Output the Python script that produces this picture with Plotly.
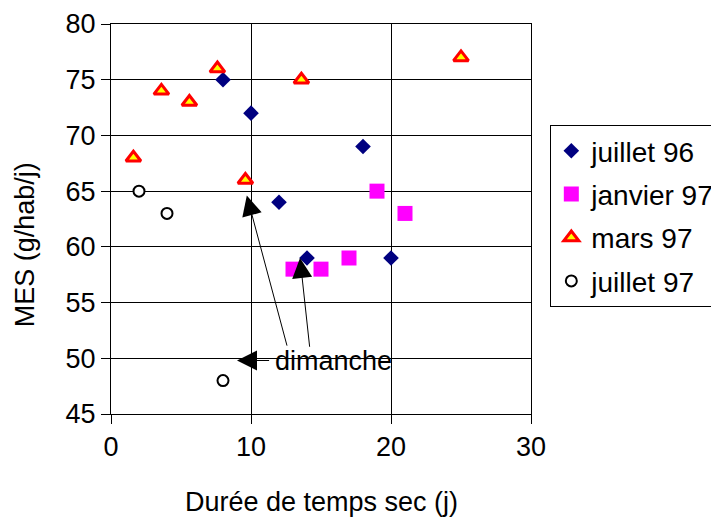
import plotly.graph_objects as go

# 数据：各时段的干旱天数 vs MES
juil96_x = [8, 10, 12, 14, 18, 20]
juil96_y = [75, 72, 64, 59, 69, 59]

janv97_x = [13, 15, 17, 19, 21]
janv97_y = [58, 58, 59, 65, 63]

mars97_x = [1.6, 3.6, 5.6, 7.6, 9.6, 13.6, 25]
mars97_y = [68, 74, 73, 76, 66, 75, 77]

juil97_x = [2, 4, 8]
juil97_y = [65, 63, 48]

# "dimanche" 箭头：(尖端 x, 尖端 y, 尾部 x, 尾部 y)
ARROWS = [
    (9.0, 49.8, 11.4, 49.8),
    (9.7, 64.6, 12.6, 51.0),
    (13.5, 59.0, 14.2, 50.9),
]

FONT = "Liberation Sans, Arial, sans-serif"
FS = 27

fig = go.Figure()
fig.add_trace(go.Scatter(x=juil96_x, y=juil96_y, mode="markers", name="juillet 96",
                         legendgroup="a",
                         marker=dict(symbol="diamond", size=12, color="#000080")))
fig.add_trace(go.Scatter(x=janv97_x, y=janv97_y, mode="markers", name="janvier 97",
                         legendgroup="b",
                         marker=dict(symbol="square", size=15, color="#ff00ff")))
fig.add_trace(go.Scatter(x=mars97_x, y=mars97_y, mode="markers", name="mars 97",
                         legendgroup="c",
                         marker=dict(symbol="triangle-up", size=13, color="#ffff00",
                                     line=dict(color="#ff0000", width=3))))
fig.add_trace(go.Scatter(x=juil97_x, y=juil97_y, mode="markers", name="juillet 97",
                         legendgroup="d",
                         marker=dict(symbol="circle", size=11, color="white",
                                     line=dict(color="black", width=2))))

for tx, ty, sx, sy in ARROWS:
    fig.add_annotation(x=tx, y=ty, ax=sx, ay=sy, xref="x", yref="y",
                       axref="x", ayref="y", text="", showarrow=True,
                       arrowhead=2, arrowsize=4, arrowwidth=1, arrowcolor="black")
fig.add_annotation(x=11.6, y=49.8, xref="x", yref="y", text="dimanche",
                   showarrow=False, xanchor="left", yanchor="middle",
                   font=dict(family=FONT, size=FS, color="black"))

# 轴标题用注释放置
fig.add_annotation(x=0.5, y=-0.225, xref="paper", yref="paper",
                   text="Durée de temps sec (j)", showarrow=False,
                   xanchor="center", yanchor="middle",
                   font=dict(family=FONT, size=FS, color="black"))
fig.add_annotation(x=-0.205, y=0.435, xref="paper", yref="paper",
                   text="MES (g/hab/j)", showarrow=False, textangle=-90,
                   xanchor="center", yanchor="middle",
                   font=dict(family=FONT, size=FS, color="black"))

# 页面 body 默认有 8px 边距，这里整体减掉
fig.update_layout(
    width=711, height=516,
    margin=dict(l=103, r=188, t=16, b=110, autoexpand=False),
    plot_bgcolor="white", paper_bgcolor="white",
    font=dict(family=FONT, size=FS, color="black"),
    showlegend=True,
    legend=dict(x=1.046, y=0.741, xanchor="left", yanchor="top",
                bordercolor="black", borderwidth=1, bgcolor="white",
                font=dict(family=FONT, size=28), tracegroupgap=4,
                traceorder="grouped", itemwidth=30),
    xaxis=dict(range=[0, 30], dtick=10, showgrid=True, gridcolor="black", gridwidth=1,
               showline=True, linecolor="black", linewidth=1, mirror=True,
               ticks="outside", ticklen=9, tickcolor="black", zeroline=False),
    yaxis=dict(range=[45, 80], dtick=5, showgrid=True, gridcolor="black", gridwidth=1,
               showline=True, linecolor="black", linewidth=1, mirror=True,
               ticks="outside", ticklen=9, tickcolor="black", zeroline=False),
)

fig.write_html("out.html")
